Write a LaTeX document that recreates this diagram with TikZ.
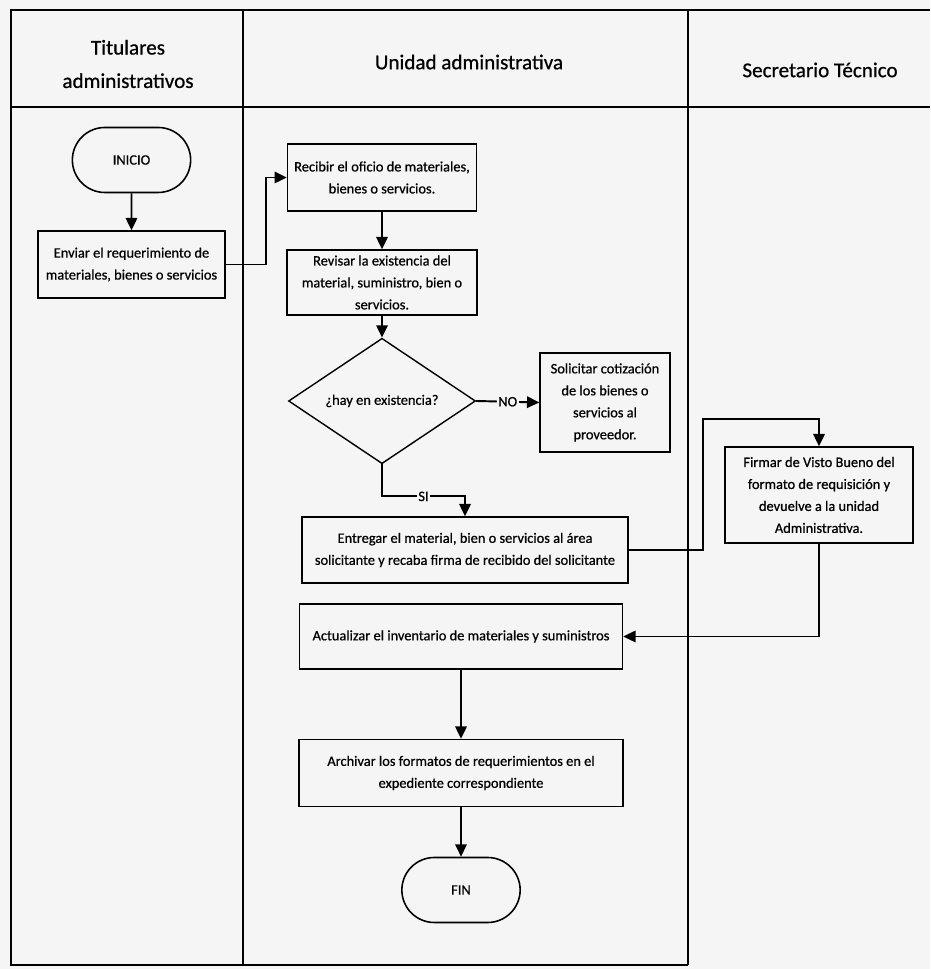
\documentclass[tikz,border=0pt]{standalone}
\usepackage{fontspec}
\setmainfont{Carlito}[FakeBold=0.7]
\usetikzlibrary{arrows.meta, shapes.misc, shapes.geometric}

\begin{document}
\begin{tikzpicture}[
  caja/.style  ={rectangle, draw=black, line width=0.8pt,
                 align=center, inner sep=2pt,
                 font=\fontsize{8.2}{12.5}\selectfont},
  term/.style  ={rounded rectangle, draw=black, line width=0.9pt,
                 minimum width=2.60cm, minimum height=1.30cm,
                 align=center, font=\fontsize{8.2}{12.5}\selectfont},
  dec/.style   ={diamond, draw=black, line width=0.8pt, inner sep=0pt,
                 minimum width=3.74cm, minimum height=1.88cm,
                 align=center, font=\fontsize{8.2}{12.5}\selectfont},
  titulo/.style={align=center, font=\fontsize{12}{19}\selectfont},
  etq/.style   ={fill=black!4, inner sep=1pt,
                 font=\fontsize{8.2}{10}\selectfont},
  arr/.style   ={-{Triangle[length=7pt, width=6.5pt]}, line width=1.1pt},
  marco/.style ={line width=1.3pt},
]

%% ═══════════════ Fondo y tabla ═══════════════
\useasboundingbox (0, 0) rectangle (18.6, 19.38);
\fill[black!4] (0, 0) rectangle (18.6, 19.38);

\draw[marco] (18.6, 19.18) -- (0.22, 19.18) -- (0.22, 0.08) -- (13.76, 0.08);
\draw[marco] (0.22, 17.24) -- (18.6, 17.24);
\draw[marco] (4.86, 19.18) -- (4.86, 0.08);
\draw[marco] (13.76, 19.18) -- (13.76, 0.08);

%% Encabezados de columnas
\node[titulo] (tTit) at (2.56, 18.10) {Titulares\\administrativos};
\node[titulo] (tUni) at (9.38, 18.14) {Unidad administrativa};
\node[titulo] (tSec) at (16.40, 17.98) {Secretario Técnico};

%% ═══════════════ Titulares administrativos ═══════════════
\node[term] (inicio) at (2.63, 16.18) {INICIO};
\node[caja, minimum width=3.74cm, minimum height=1.34cm] (enviar)
  at (2.63, 14.09) {Enviar el requerimiento de\\materiales, bienes o servicios};

%% ═══════════════ Unidad administrativa ═══════════════
\node[caja, minimum width=3.78cm, minimum height=1.34cm] (recibir)
  at (7.64, 15.83) {Recibir el oficio de materiales,\\bienes o servicios.};
\node[caja, minimum width=3.80cm, minimum height=1.30cm] (revisar)
  at (7.64, 13.73) {Revisar la existencia del\\material, suministro, bien o\\servicios.};
\node[dec] (existencia) at (7.64, 11.36) {¿hay en existencia?};
\node[caja, minimum width=2.60cm, minimum height=1.98cm] (solicitar)
  at (12.10, 11.33) {Solicitar cotización\\de los bienes o\\servicios al\\proveedor.};
\node[caja, minimum width=6.52cm, minimum height=1.32cm] (entregar)
  at (9.30, 8.38) {Entregar el material, bien o servicios al área\\solicitante y recaba firma de recibido del solicitante};
\node[caja, minimum width=6.46cm, minimum height=1.30cm] (actualizar)
  at (9.22, 6.65) {Actualizar el inventario de materiales y suministros};
\node[caja, minimum width=6.48cm, minimum height=1.34cm] (archivar)
  at (9.22, 3.92) {Archivar los formatos de requerimientos en el\\expediente correspondiente};
\node[term] (fin) at (9.22, 1.58) {FIN};

%% ═══════════════ Secretario Técnico ═══════════════
\node[caja, minimum width=3.76cm, minimum height=1.92cm] (firmar)
  at (16.38, 9.48) {Firmar de Visto Bueno del\\formato de requisición y\\devuelve a la unidad\\Administrativa.};

%% ═══════════════ Flechas ═══════════════
\draw[arr] (inicio) -- (enviar);
\draw[arr] (enviar.east) -- ++(0.80, 0) |- (recibir.west);
\draw[arr] (recibir) -- (revisar);
\draw[arr] (revisar) -- (existencia);
\draw[arr] (existencia.east) -- node[etq]{NO} (solicitar.west);
\draw[arr] (existencia.south) -- ++(0, -0.64) -| node[etq, pos=0.25]{SI} (entregar.north);
\draw[arr] (entregar.east) -- ++(1.48, 0) -- ++(0, 2.62) -| (firmar.north);
\draw[arr] (firmar.south) |- (actualizar.east);
\draw[arr] (actualizar) -- (archivar);
\draw[arr] (archivar) -- (fin);

\end{tikzpicture}
\end{document}
